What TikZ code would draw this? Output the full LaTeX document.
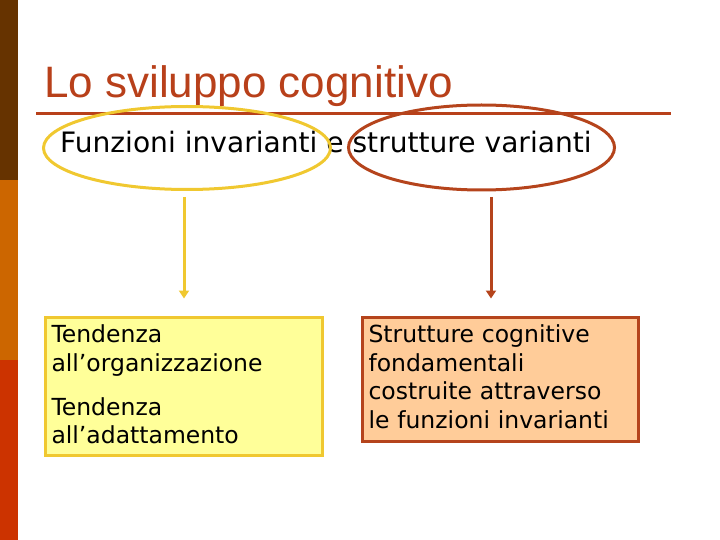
\documentclass[tikz,border=0pt]{standalone}
\usepackage{fontspec}
\setmainfont{DejaVu Sans}
\newfontfamily\titlefont{Liberation Sans}
\usetikzlibrary{shapes.geometric, arrows.meta, positioning}
\definecolor{bardark}{HTML}{663300}
\definecolor{barorange}{HTML}{CC6600}
\definecolor{barred}{HTML}{CC3300}
\definecolor{titlered}{HTML}{B8401A}
\definecolor{ygold}{HTML}{F0C830}
\definecolor{ylight}{HTML}{FFFF99}
\definecolor{brw}{HTML}{B5441C}
\definecolor{peach}{HTML}{FFCC99}

\begin{document}
\begin{tikzpicture}[x=1pt, y=-1pt]
    \useasboundingbox (0,0) rectangle (720,540);%page
    \fill[bardark] (0,0) rectangle (18,180);%left bar, top
    \fill[barorange] (0,180) rectangle (18,360);%left bar, middle
    \fill[barred] (0,360) rectangle (18,540);%left bar, bottom
    \node (title) [anchor=base west, inner sep=0, text=titlered, scale=1, font=\titlefont\fontsize{44}{50}\selectfont] at (44,98) {Lo sviluppo cognitivo};%title
    \draw[titlered, line width=3pt] (36,114) -- (671,114);%rule under the title
    \node (sub) [anchor=base west, inner sep=0, text=black, scale=1, font=\fontsize{28.1}{33}\selectfont] at (60,153) {Funzioni invarianti e strutture varianti};%subtitle
    \node (inv) [ellipse, draw=ygold, line width=3pt, minimum width=287pt, minimum height=83pt] at (187,148) {};%ring round the invariant functions
    \node (var) [ellipse, draw=brw, line width=3pt, minimum width=266pt, minimum height=85pt] at (481.5,147.5) {};%ring round the variant structures
    \node (org) [rectangle, draw=ygold, fill=ylight, line width=3pt, anchor=north west, minimum width=277pt, minimum height=138pt, text width=264pt, inner xsep=6.5pt, align=left, text=black, font=\fontsize{23.5}{28.5}\selectfont] at (43.5,315.5) {Tendenza\\all'organizzazione\\[15.5pt]Tendenza\\all'adattamento\par\vspace{3pt}};%yellow box
    \node (str) [rectangle, draw=brw, fill=peach, line width=3pt, anchor=north west, minimum width=276pt, minimum height=124pt, text width=263pt, inner xsep=6.5pt, align=left, text=black, font=\fontsize{23.5}{28.5}\selectfont] at (360.5,315.5) {Strutture cognitive\\fondamentali\\costruite attraverso\\le funzioni invarianti\par\vspace{5pt}};%peach box
    \coordinate (ya) at (184,197);%start of the yellow arrow
    \coordinate (ba) at (491,197);%start of the brown arrow
    \draw[-{Triangle[length=8pt, width=10pt]}, ygold, line width=3pt, shorten >=17pt] (ya) to (ya |- org.north);%invariants to box
    \draw[-{Triangle[length=8pt, width=10pt]}, brw, line width=3pt, shorten >=17pt] (ba) to (ba |- str.north);%variants to box
\end{tikzpicture}
\end{document}
